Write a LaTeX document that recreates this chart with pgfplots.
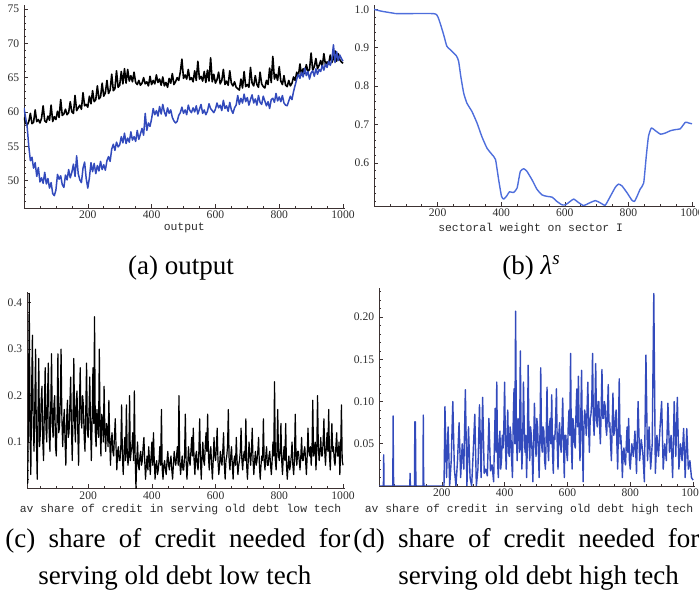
\documentclass[border=0pt]{standalone}
\usepackage{fontspec}
\setmainfont{Liberation Serif}
\setmonofont{Liberation Mono}
\usepackage{pgfplots}
\usepackage{pgfplotstable}
\pgfplotsset{compat=1.18}

\definecolor{mmablue}{RGB}{50,74,188}
\definecolor{mmablueb}{RGB}{78,110,220}
\definecolor{mmaaxis}{RGB}{60,50,50}
\definecolor{mmatext}{RGB}{45,45,45}

% output: black = low tech, blue = high tech
\pgfplotstableread{
x k b
0 59.2 60.6
5 58.4 59.2
10 58.1 57.8
15 58.6 55.0
20 59.8 52.9
25 58.3 53.4
30 58.5 51.8
35 60.3 52.6
40 58.6 50.6
45 58.9 51.9
50 58.4 49.8
55 59.1 50.4
60 60.9 49.6
65 58.7 51.2
70 58.5 49.5
75 59.4 50.3
80 58.8 48.9
85 61.0 49.7
90 58.6 48.1
95 59.3 47.8
100 58.9 48.6
105 60.1 50.9
110 59.2 50.2
115 61.8 50.7
120 59.5 49.4
125 59.7 49.0
130 60.4 50.8
135 59.6 50.1
140 59.9 51.6
145 61.5 50.4
150 60.0 51.2
155 59.8 52.4
160 62.4 50.6
165 60.2 53.6
170 60.6 51.0
175 61.0 50.1
180 60.4 49.7
185 62.8 51.8
190 60.9 52.7
195 61.1 50.3
200 60.7 48.9
205 62.3 50.4
210 61.2 52.6
215 63.1 51.3
220 61.5 52.5
225 61.8 51.0
230 63.8 52.2
235 61.9 51.4
240 62.2 52.8
245 64.2 51.6
250 62.3 52.3
255 62.8 51.5
260 64.6 52.9
265 62.7 53.5
270 63.2 52.8
275 65.5 54.6
280 63.1 55.3
285 63.4 54.4
290 66.0 55.6
295 63.6 54.9
300 63.9 55.2
305 65.9 56.4
310 64.1 55.5
315 66.3 56.9
320 64.2 55.4
325 66.2 56.2
330 64.5 55.6
335 65.3 57.1
340 64.4 55.9
345 65.8 56.4
350 64.3 55.7
355 64.0 57.3
360 64.6 56.0
365 63.9 56.8
370 64.2 57.6
375 65.0 56.6
380 64.1 59.8
385 64.4 57.3
390 63.8 58.4
395 65.2 57.9
400 64.0 59.0
405 64.6 60.5
410 64.1 59.6
415 65.4 60.2
420 64.3 59.4
425 64.8 60.8
430 63.9 59.7
435 65.1 61.1
440 63.8 60.0
445 64.3 59.4
450 63.6 60.6
455 64.9 59.8
460 64.2 60.3
465 65.6 59.2
470 64.0 58.7
475 64.4 58.4
480 65.0 58.6
485 64.6 59.5
490 65.8 59.9
495 67.7 60.7
500 64.9 59.8
505 65.4 60.3
510 64.8 59.6
515 66.2 61.0
520 64.7 60.2
525 65.0 59.9
530 64.4 60.6
535 66.0 60.0
540 64.6 60.9
545 67.4 59.7
550 64.8 60.4
555 65.2 61.1
560 64.5 59.8
565 65.9 60.3
570 64.3 59.6
575 66.1 60.1
580 64.5 61.2
585 67.9 60.5
590 64.4 60.2
595 65.5 59.9
600 64.2 60.4
605 64.7 61.3
610 65.8 60.6
615 64.1 61.0
620 64.6 60.2
625 66.2 61.7
630 64.0 60.5
635 64.5 60.9
640 63.9 60.1
645 66.0 61.4
650 64.2 60.3
655 63.8 59.8
660 64.4 60.6
665 63.6 61.0
670 63.4 62.4
675 63.2 61.1
680 64.8 62.0
685 63.5 61.3
690 65.9 62.6
695 63.7 61.5
700 64.0 62.1
705 63.6 61.0
710 66.5 61.8
715 64.2 62.5
720 63.8 61.3
725 65.3 61.9
730 64.0 61.0
735 63.6 62.4
740 65.8 61.4
745 64.1 61.1
750 63.7 62.3
755 63.5 61.6
760 64.6 60.9
765 64.0 61.5
770 66.4 60.5
775 64.3 61.8
780 68.1 62.0
785 64.8 61.4
790 65.5 62.7
795 64.6 61.6
800 66.6 62.2
805 64.5 61.5
810 64.0 62.4
815 65.3 61.3
820 63.9 61.0
825 63.7 60.9
830 64.6 61.6
835 63.8 62.3
840 64.2 61.8
845 65.1 63.0
850 64.6 63.9
855 65.8 64.8
860 65.2 65.5
865 67.0 64.9
870 65.4 65.8
875 66.3 65.1
880 65.6 66.4
885 66.9 65.3
890 65.9 65.9
895 66.2 64.8
900 68.6 65.7
905 66.1 66.0
910 66.6 65.2
915 67.8 66.3
920 66.3 65.5
925 66.8 66.2
930 67.5 65.9
935 66.6 66.8
940 68.5 66.1
945 66.9 67.0
950 67.3 66.5
955 67.0 67.4
960 68.3 66.8
965 67.2 67.6
970 67.8 69.8
975 68.9 67.2
980 67.4 68.8
985 68.5 67.5
990 67.6 68.3
995 67.3 67.8
1000 67.1 67.4
}\outputdata

% sectoral weight on sector I
\pgfplotstableread{
x w
0 1.000
25 0.995
62 0.990
72 0.989
187 0.989
200 0.982
208 0.964
219 0.934
229 0.904
240 0.895
259 0.879
266 0.865
273 0.825
282 0.782
292 0.756
308 0.734
324 0.704
339 0.669
355 0.639
371 0.622
382 0.609
392 0.556
401 0.513
408 0.506
418 0.515
426 0.525
439 0.523
450 0.535
460 0.578
471 0.585
481 0.578
497 0.556
512 0.532
528 0.517
544 0.513
560 0.511
575 0.500
591 0.491
602 0.491
617 0.500
628 0.506
643 0.497
659 0.489
675 0.495
696 0.502
712 0.496
727 0.490
743 0.513
759 0.537
769 0.545
780 0.540
796 0.522
811 0.503
819 0.500
827 0.513
837 0.532
848 0.548
856 0.617
863 0.669
872 0.691
885 0.684
901 0.675
916 0.678
932 0.684
948 0.687
963 0.689
979 0.706
990 0.704
1000 0.702
}\weightdata

% share of credit for old debt, low tech
\pgfplotstableread{
x s
10 0.01
12.5 0.15
15 0.42
17.5 0.12
20 0.03
22.5 0.21
25 0.33
27.5 0.14
30 0.08
32.5 0.18
35 0.30
37.5 0.11
40 0.02
42.5 0.16
45 0.28
47.5 0.09
50 0.12
52.5 0.19
55 0.22
57.5 0.10
60 0.06
62.5 0.17
65 0.26
67.5 0.13
70 0.10
72.5 0.20
75 0.27
77.5 0.12
80 0.08
82.5 0.17
85 0.29
87.5 0.14
90 0.11
92.5 0.18
95 0.20
97.5 0.09
100 0.07
102.5 0.16
105 0.29
107.5 0.12
110 0.13
112.5 0.19
115 0.30
117.5 0.15
120 0.09
122.5 0.14
125 0.17
127.5 0.10
130 0.05
132.5 0.15
135 0.19
137.5 0.11
140 0.12
142.5 0.18
145 0.24
147.5 0.13
150 0.06
152.5 0.16
155 0.28
157.5 0.14
160 0.10
162.5 0.19
165 0.21
167.5 0.12
170 0.05
172.5 0.18
175 0.26
177.5 0.15
180 0.13
182.5 0.20
185 0.18
187.5 0.11
190 0.08
192.5 0.17
195 0.27
197.5 0.12
200 0.11
202.5 0.16
205 0.24
207.5 0.13
210 0.06
212.5 0.15
215 0.26
217.5 0.14
220 0.37
222.5 0.12
225 0.09
227.5 0.17
230 0.14
232.5 0.11
235 0.30
237.5 0.13
240 0.07
242.5 0.16
245 0.15
247.5 0.10
250 0.22
252.5 0.12
255 0.08
257.5 0.14
260 0.13
262.5 0.09
265 0.19
267.5 0.11
270 0.05
272.5 0.10
275 0.12
277.5 0.08
280 0.07
282.5 0.11
285 0.15
287.5 0.09
290 0.04
292.5 0.08
295 0.09
297.5 0.06
300 0.06
302.5 0.09
305 0.18
307.5 0.07
310 0.03
312.5 0.08
315 0.11
317.5 0.06
320 0.18
322.5 0.08
325 0.05
327.5 0.07
330 0.20
332.5 0.06
335 0.08
337.5 0.09
340 0.12
342.5 0.06
345 0.21
347.5 0.07
350 0.00
352.5 0.06
355 0.10
357.5 0.05
360 0.04
362.5 0.07
365 0.08
367.5 0.05
370 0.06
372.5 0.09
375 0.11
377.5 0.06
380 0.02
382.5 0.05
385 0.07
387.5 0.04
390 0.09
392.5 0.06
395 0.03
397.5 0.07
400 0.10
402.5 0.05
405 0.12
407.5 0.06
410 0.02
412.5 0.05
415 0.06
417.5 0.03
420 0.04
422.5 0.06
425 0.09
427.5 0.05
430 0.17
432.5 0.04
435 0.02
437.5 0.05
440 0.06
442.5 0.04
445 0.03
447.5 0.06
450 0.08
452.5 0.05
455 0.04
457.5 0.06
460 0.07
462.5 0.04
465 0.02
467.5 0.05
470 0.08
472.5 0.06
475 0.05
477.5 0.07
480 0.09
482.5 0.05
485 0.20
487.5 0.06
490 0.03
492.5 0.05
495 0.07
497.5 0.04
500 0.04
502.5 0.07
505 0.16
507.5 0.06
510 0.02
512.5 0.05
515 0.09
517.5 0.06
520 0.05
522.5 0.08
525 0.11
527.5 0.07
530 0.13
532.5 0.06
535 0.03
537.5 0.07
540 0.08
542.5 0.05
545 0.04
547.5 0.08
550 0.15
552.5 0.06
555 0.02
557.5 0.07
560 0.10
562.5 0.06
565 0.05
567.5 0.09
570 0.12
572.5 0.08
575 0.16
577.5 0.07
580 0.04
582.5 0.08
585 0.09
587.5 0.05
590 0.02
592.5 0.06
595 0.11
597.5 0.07
600 0.06
602.5 0.09
605 0.13
607.5 0.06
610 0.03
612.5 0.05
615 0.08
617.5 0.06
620 0.05
622.5 0.08
625 0.12
627.5 0.05
630 0.02
632.5 0.06
635 0.07
637.5 0.09
640 0.17
642.5 0.06
645 0.04
647.5 0.07
650 0.09
652.5 0.05
655 0.02
657.5 0.06
660 0.07
662.5 0.05
665 0.11
667.5 0.06
670 0.03
672.5 0.05
675 0.06
677.5 0.08
680 0.13
682.5 0.06
685 0.04
687.5 0.07
690 0.08
692.5 0.06
695 0.15
697.5 0.05
700 0.02
702.5 0.06
705 0.10
707.5 0.07
710 0.05
712.5 0.08
715 0.13
717.5 0.06
720 0.03
722.5 0.06
725 0.08
727.5 0.05
730 0.06
732.5 0.08
735 0.11
737.5 0.05
740 0.02
742.5 0.05
745 0.07
747.5 0.06
750 0.15
752.5 0.06
755 0.04
757.5 0.07
760 0.09
762.5 0.05
765 0.05
767.5 0.07
770 0.08
772.5 0.05
775 0.03
777.5 0.06
780 0.10
782.5 0.07
785 0.23
787.5 0.06
790 0.04
792.5 0.08
795 0.17
797.5 0.07
800 0.06
802.5 0.08
805 0.14
807.5 0.06
810 0.03
812.5 0.07
815 0.09
817.5 0.06
820 0.14
822.5 0.05
825 0.02
827.5 0.05
830 0.07
832.5 0.04
835 0.05
837.5 0.07
840 0.10
842.5 0.05
845 0.03
847.5 0.06
850 0.16
852.5 0.07
855 0.05
857.5 0.08
860 0.08
862.5 0.06
865 0.04
867.5 0.07
870 0.11
872.5 0.06
875 0.06
877.5 0.08
880 0.09
882.5 0.06
885 0.03
887.5 0.07
890 0.13
892.5 0.08
895 0.07
897.5 0.09
900 0.05
902.5 0.08
905 0.19
907.5 0.07
910 0.08
912.5 0.10
915 0.04
917.5 0.08
920 0.20
922.5 0.09
925 0.06
927.5 0.08
930 0.11
932.5 0.07
935 0.07
937.5 0.10
940 0.15
942.5 0.08
945 0.05
947.5 0.09
950 0.12
952.5 0.08
955 0.17
957.5 0.07
960 0.04
962.5 0.09
965 0.14
967.5 0.08
970 0.09
972.5 0.06
975 0.05
977.5 0.09
980 0.12
982.5 0.07
985 0.07
987.5 0.10
990 0.03
992.5 0.08
995 0.18
997.5 0.06
1000 0.05
}\lowtechdata

% share of credit for old debt, high tech
\pgfplotstableread{
x s
0 0
14 0
15 0.037
16 0
44 0
45 0.083
46 0.015
47 0
98 0
99 0.015
100 0
113 0
114 0.076
115 0.02
116 0.076
117 0.02
118 0
140 0
141 0.084
142 0.01
143 0
207 0
210 0.094
215 0.01
220 0.07
225 0.0
230 0.03
235 0.10
240 0.02
245 0.0
250 0.03
255 0.075
260 0.01
265 0.05
270 0.02
275 0.114
280 0.0
285 0.07
290 0.01
295 0.0
300 0.04
305 0.085
310 0.0
315 0.02
320 0.096
325 0.01
330 0.105
335 0.015
340 0.02
345 0.012
350 0.08
355 0.018
360 0.025
365 0.005
370 0.092
372.5 0.04
375 0.123
377.5 0.03
380 0.01
382.5 0.05
385 0.065
387.5 0.02
390 0.03
392.5 0.06
395 0.045
397.5 0.07
400 0.123
402.5 0.05
405 0.02
407.5 0.06
410 0.09
412.5 0.04
415 0.035
417.5 0.07
420 0.06
422.5 0.03
425 0.01
427.5 0.08
430 0.115
432.5 0.05
435 0.207
437.5 0.06
440 0.03
442.5 0.08
445 0.075
447.5 0.04
450 0.16
452.5 0.06
455 0.02
457.5 0.05
460 0.123
462.5 0.07
465 0.04
467.5 0.06
470 0.01
472.5 0.05
475 0.143
477.5 0.06
480 0.03
482.5 0.07
485 0.06
487.5 0.04
490 0.005
492.5 0.05
495 0.098
497.5 0.06
500 0.035
502.5 0.08
505 0.07
507.5 0.04
510 0.01
512.5 0.06
515 0.14
517.5 0.05
520 0.04
522.5 0.07
525 0.065
527.5 0.03
530 0.02
532.5 0.06
535 0.117
537.5 0.05
540 0.03
542.5 0.07
545 0.08
547.5 0.05
550 0.108
552.5 0.04
555 0.015
557.5 0.06
560 0.055
562.5 0.08
565 0.115
567.5 0.05
570 0.02
572.5 0.06
575 0.075
577.5 0.05
580 0.04
582.5 0.07
585 0.104
587.5 0.05
590 0.01
592.5 0.06
595 0.06
597.5 0.04
600 0.03
602.5 0.07
605 0.09
607.5 0.06
610 0.157
612.5 0.05
615 0.02
617.5 0.08
620 0.07
622.5 0.05
625 0.045
627.5 0.09
630 0.115
632.5 0.07
635 0.13
637.5 0.06
640 0.03
642.5 0.08
645 0.137
647.5 0.06
650 0.005
652.5 0.07
655 0.09
657.5 0.08
660 0.06
662.5 0.09
665 0.123
667.5 0.07
670 0.04
672.5 0.08
675 0.085
677.5 0.10
680 0.157
682.5 0.08
685 0.06
687.5 0.09
690 0.145
692.5 0.08
695 0.07
697.5 0.10
700 0.1
702.5 0.07
705 0.05
707.5 0.09
710 0.138
712.5 0.08
715 0.08
717.5 0.10
720 0.095
722.5 0.07
725 0.06
727.5 0.09
730 0.12
732.5 0.07
735 0.075
737.5 0.05
740 0.03
742.5 0.07
745 0.11
747.5 0.06
750 0.065
752.5 0.08
755 0.09
757.5 0.05
760 0.02
762.5 0.07
765 0.127
767.5 0.05
770 0.06
772.5 0.04
775 0.01
777.5 0.04
780 0.045
782.5 0.03
785 0.025
787.5 0.05
790 0.07
792.5 0.04
795 0.08
797.5 0.03
800 0.02
805 0.05
810 0.035
815 0.065
820 0.015
825 0.1
830 0.03
835 0.055
840 0.04
845 0.005
850 0.155
855 0.03
860 0.07
865 0.02
870 0.05
875 0.228
880 0.015
885 0.06
890 0.035
895 0.07
900 0.1
905 0.02
910 0.05
915 0.03
920 0.098
925 0.04
930 0.06
935 0.01
940 0.1
945 0.035
950 0.105
955 0.02
960 0.05
965 0.03
970 0.068
975 0.01
980 0.068
985 0.02
990 0.03
995 0.01
1000 0.007
}\hightechdata

\pgfplotsset{
  mma/.style={
    scale only axis,
    axis x line*=bottom,
    axis y line*=left,
    axis line style={mmaaxis, line width=0.45pt},
    tick align=inside,
    tick style={mmaaxis, line width=0.3pt},
    major tick length=2pt,
    minor tick length=1.2pt,
    tick label style={font=\rmfamily\fontsize{5.8}{6}\selectfont, text=mmatext},
    /pgf/number format/assume math mode=true,
    /pgf/number format/1000 sep={},
    xtick={200,400,600,800,1000},
    minor xtick={50,100,...,1000},
    xticklabel style={inner sep=1.2pt},
    yticklabel style={inner sep=2.2pt},
    xlabel style={font=\fontsize{5.7}{6}\selectfont\ttfamily, text=mmatext,
      at={(axis description cs:0.5,0)}, anchor=center},
    every axis plot/.append style={no marks, line join=round},
  },
}

\begin{document}
\begin{tikzpicture}
\useasboundingbox (0,0) rectangle (349.5pt,298.5pt);

% (a) output
\begin{axis}[mma,
  at={(12pt,194.5pt)}, anchor=south west,
  width=160.3pt, height=101.5pt,
  xmin=0, xmax=1005, ymin=46, ymax=75.6,
  ytick={50,55,60,65,70,75},
  minor ytick={46,47,...,75},
  xlabel={output},
  xlabel style={yshift=-10pt},
]
\addplot[black, line width=0.8pt] table[x=x, y=k] {\outputdata};
\addplot[mmablue, line width=0.75pt] table[x=x, y=b] {\outputdata};
\end{axis}

% (b) sectoral weight
\begin{axis}[mma,
  at={(187pt,195.5pt)}, anchor=south west,
  width=160.6pt, height=100.6pt,
  xmin=0, xmax=1010, ymin=0.488, ymax=1.012,
  ytick={0.6,0.7,0.8,0.9,1.0},
  minor ytick={0.50,0.52,...,1.0},
  yticklabel style={/pgf/number format/.cd, fixed, fixed zerofill, precision=1},
  xlabel={sectoral weight on sector I},
  xlabel style={yshift=-11.5pt, xshift=-2pt},
]
\addplot[mmablueb, line width=0.7pt, smooth, tension=0.3] table[x=x, y=w] {\weightdata};
\end{axis}

% (c) low tech
\begin{axis}[mma,
  at={(13.5pt,54.25pt)}, anchor=south west,
  width=158.8pt, height=98pt,
  xmin=8, xmax=1005, ymin=0, ymax=0.422,
  ytick={0.1,0.2,0.3,0.4},
  minor ytick={0.02,0.04,...,0.42},
  yticklabel style={/pgf/number format/.cd, fixed, precision=1},
  xlabel={av share of credit in serving old debt low tech},
  xlabel style={yshift=-10.75pt, xshift=-2.6pt},
]
\addplot[black, line width=0.6pt] table[x=x, y=s] {\lowtechdata};
\end{axis}

% (d) high tech
\begin{axis}[mma,
  at={(189.5pt,55.5pt)}, anchor=south west,
  width=157.8pt, height=98.8pt,
  xmin=0, xmax=1005, ymin=0, ymax=0.234,
  ytick={0.05,0.10,0.15,0.20},
  minor ytick={0.01,0.02,...,0.23},
  yticklabel style={/pgf/number format/.cd, fixed, fixed zerofill, precision=2},
  xlabel={av share of credit in serving old debt high tech},
  xlabel style={yshift=-12pt, xshift=-3.9pt},
]
\addplot[mmablue, line width=0.7pt] table[x=x, y=s] {\hightechdata};
\end{axis}

% sub-captions
\begin{scope}[every node/.style={inner sep=0pt, font=\rmfamily\fontsize{13.5}{16}\selectfont}]
\node[anchor=base] at (90.5pt,161pt) {(a) output};
\node[anchor=base] at (265.75pt,161pt) {(b) {\itshape λ}\textsuperscript{\itshape s}};
\node[anchor=base west] at (2.5pt,24.5pt) {\makebox[172.5pt][s]{(c) share of credit needed for}};
\node[anchor=base west] at (19pt,6pt) {serving old debt low tech};
\node[anchor=base west] at (176.5pt,24.5pt) {\makebox[173pt][s]{(d) share of credit needed for}};
\node[anchor=base west] at (199pt,6pt) {serving old debt high tech};
\end{scope}
\end{tikzpicture}
\end{document}
